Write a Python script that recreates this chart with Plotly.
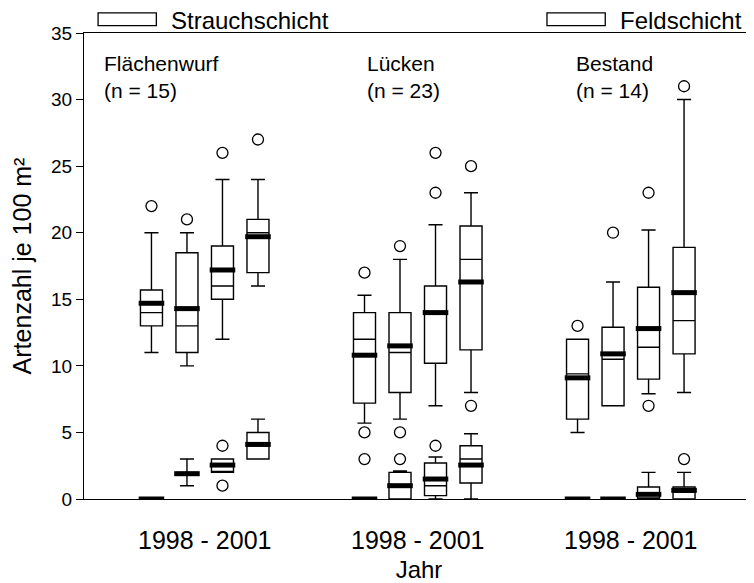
import plotly.graph_objects as go

# box positions: 4 years per site, 6 units between sites
positions = [1, 2, 3, 4, 7, 8, 9, 10, 13, 14, 15, 16]
sites = ["Flächenwurf", "Lücken", "Bestand"]
site_n = [15, 23, 14]
site_label_x = [-0.4, 7.0, 12.9]
year_label = "1998 - 2001"
group_centers = [2.5, 8.5, 14.5]

# Feldschicht (field layer)
feld_q1 = [13, 11, 15, 17, 7.2, 8, 10.2, 11.2, 6, 7, 9, 10.9]
feld_med = [14, 13, 16, 20, 12, 11, 14, 18, 9.4, 10.5, 11.4, 13.4]
feld_q3 = [15.7, 18.5, 19, 21, 14, 14, 16, 20.5, 12, 12.9, 15.9, 18.9]
feld_lo = [11, 10, 12, 16, 5.7, 6, 7, 8, 5, 7, 7.9, 8]
feld_hi = [20, 20, 24, 24, 15.3, 18, 20.6, 23, 12, 16.3, 20.2, 30]
feld_mean = [14.7, 14.3, 17.2, 19.7, 10.8, 11.5, 14.0, 16.3, 9.1, 10.9, 12.8, 15.5]
feld_out = [[22], [21], [26], [27], [17, 5, 3], [19, 5, 3], [26, 23], [25, 7],
            [13], [20], [23, 7], [31]]

# Strauchschicht (shrub layer)
strauch_q1 = [0, 2, 2, 3, 0, 0, 0.25, 1.2, 0, 0, 0, 0]
strauch_med = [0, 2, 2, 4, 0, 1, 1, 3, 0, 0, 0, 0.5]
strauch_q3 = [0, 2, 3, 5, 0, 2, 2.7, 4, 0, 0, 0.9, 0.9]
strauch_lo = [0, 1, 2, 3, 0, 0, 0, 0, 0, 0, 0, 0]
strauch_hi = [0, 3, 3, 6, 0, 2.1, 3.15, 4.9, 0, 0, 2, 2]
strauch_mean = [0, 1.9, 2.55, 4.1, 0, 1.0, 1.5, 2.55, 0, 0, 0.35, 0.65]
strauch_out = [[], [], [4, 1], [], [], [], [4], [], [], [], [], [3]]

box_w = 0.62
mean_w = 0.72

fig = go.Figure()

def add_layer(name, q1, med, q3, lo, hi, mean, out):
    fig.add_trace(go.Box(
        x=positions, q1=q1, median=med, q3=q3, lowerfence=lo, upperfence=hi,
        width=box_w, whiskerwidth=0.64, fillcolor="white",
        line=dict(color="black", width=1.4), boxpoints=False,
        name=name, showlegend=False, hoverinfo="skip"))
    mx, my = [], []
    for p, m in zip(positions, mean):
        mx += [p - mean_w / 2, p + mean_w / 2, None]
        my += [m, m, None]
    fig.add_trace(go.Scatter(x=mx, y=my, mode="lines",
                             line=dict(color="black", width=5),
                             showlegend=False, hoverinfo="skip"))
    ox, oy = [], []
    for p, vals in zip(positions, out):
        for v in vals:
            ox.append(p)
            oy.append(v)
    fig.add_trace(go.Scatter(x=ox, y=oy, mode="markers",
                             marker=dict(symbol="circle-open", size=11, color="black",
                                         line=dict(width=1.3)),
                             showlegend=False, hoverinfo="skip"))

add_layer("Feldschicht", feld_q1, feld_med, feld_q3, feld_lo, feld_hi, feld_mean, feld_out)
add_layer("Strauchschicht", strauch_q1, strauch_med, strauch_q3, strauch_lo, strauch_hi,
          strauch_mean, strauch_out)

font = "Liberation Sans, Arial, sans-serif"

for name, n, x in zip(sites, site_n, site_label_x):
    fig.add_annotation(x=x, y=33.7, xref="x", yref="y", text=f"{name}<br>(n = {n})",
                       showarrow=False, xanchor="left", yanchor="top", align="left",
                       font=dict(size=21, color="black", family=font))

# legend drawn above the frame
legend_items = ["Strauchschicht", "Feldschicht"]
legend_x = [0.021, 0.691]
for label, x0 in zip(legend_items, legend_x):
    fig.add_shape(type="rect", xref="paper", yref="paper", x0=x0, x1=x0 + 0.087,
                  y0=1.016, y1=1.043, line=dict(color="black", width=1.3),
                  fillcolor="white")
    fig.add_annotation(x=x0 + 0.106, y=1.026, xref="paper", yref="paper", text=label,
                       showarrow=False, xanchor="left", yanchor="middle",
                       font=dict(size=24, color="black", family=font))

# page body has an 8px margin, so the figure is sized to fit the window
fig.update_layout(
    width=746, height=575,
    margin=dict(l=76, r=0, t=25, b=84),
    paper_bgcolor="white", plot_bgcolor="white",
    font=dict(family=font, color="black"),
    boxmode="overlay",
)
fig.update_xaxes(
    range=[-0.9, 17.97], showgrid=False, zeroline=False,
    showline=True, linecolor="black", linewidth=1.3, mirror=True,
    tickvals=group_centers, ticktext=[year_label] * 3,
    ticks="outside", ticklen=19, tickcolor="rgba(0,0,0,0)",
    tickfont=dict(size=25, family=font),
    title=dict(text="Jahr", font=dict(size=24, family=font), standoff=9),
)
fig.update_yaxes(
    range=[0, 35], dtick=5, showgrid=False, zeroline=False,
    showline=True, linecolor="black", linewidth=1.3,
    ticks="outside", ticklen=7, tickcolor="black", tickwidth=1.3,
    tickfont=dict(size=19, family=font),
    title=dict(text="Artenzahl je 100 m²", font=dict(size=25, family=font), standoff=12),
)

fig.write_html("out.html")
